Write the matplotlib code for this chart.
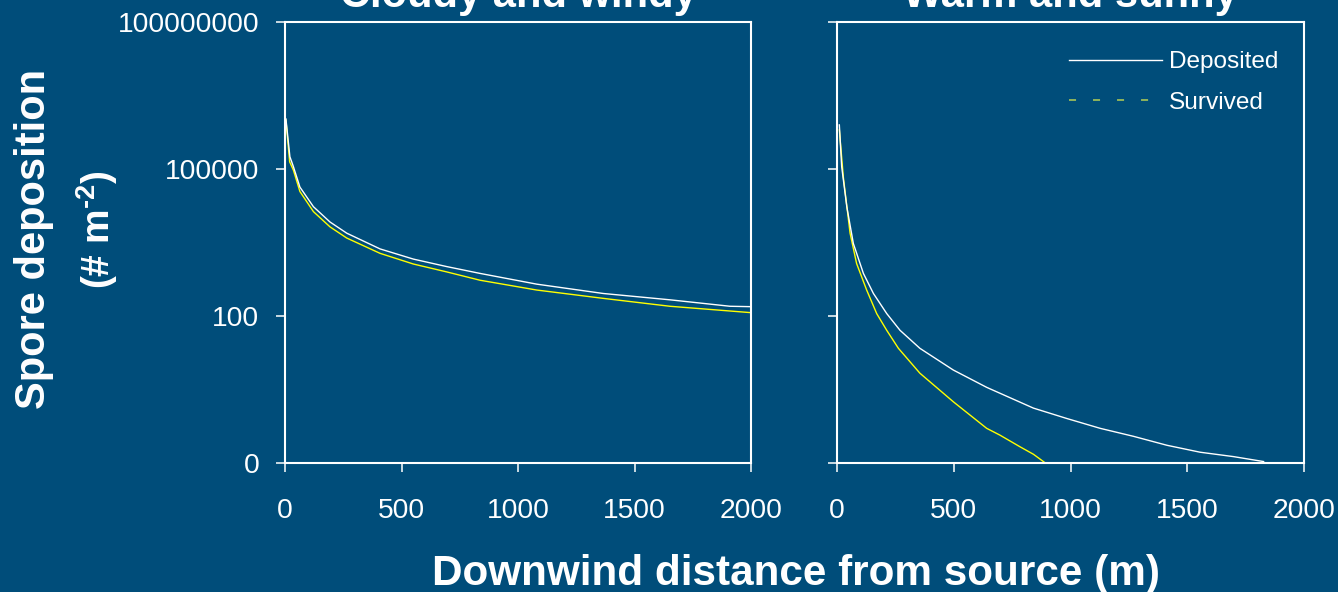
import matplotlib
matplotlib.use('Agg')
import matplotlib.pyplot as plt
from matplotlib.lines import Line2D
from matplotlib.ticker import FixedLocator, NullLocator, FixedFormatter

plt.rcParams['font.family'] = ['Liberation Sans', 'DejaVu Sans']
plt.rcParams['mathtext.fontset'] = 'custom'
plt.rcParams['mathtext.rm'] = 'Liberation Sans:bold'
plt.rcParams['mathtext.bf'] = 'Liberation Sans:bold'
plt.rcParams['mathtext.default'] = 'bf'

BG = '#004D7A'
WHITE = '#FFFFFF'
YELLOW = '#FFFF00'
LEGEND_GREEN = '#9BBB59'

# ---------------- data ----------------
panel_titles = ['Cloudy and windy', 'Warm and sunny']
series_labels = ['Deposited', 'Survived']
x_ticks = [0, 500, 1000, 1500, 2000]
y_ticks = [0.1, 100, 1e5, 1e8]
y_tick_labels = ['0', '100', '100000', '100000000']

# Cloudy and windy
cloudy_dep_x = [4, 21, 36, 64, 122, 193, 265, 408, 551, 694, 837, 1080, 1366, 1652, 1910, 2000]
cloudy_dep_y = [1.05e6, 178000, 112000, 42700, 17000, 8300, 4900, 2340, 1450, 1020,
                740, 447, 288, 214, 158, 155]
cloudy_surv_x = [4, 20, 36, 64, 122, 193, 265, 408, 551, 694, 837, 1080, 1366, 1652, 2000]
cloudy_surv_y = [1.0e6, 140000, 95000, 34700, 13500, 6600, 3900, 1900, 1150, 794,
                 537, 339, 229, 158, 117]

# Warm and sunny
warm_dep_x = [10, 20, 42, 70, 113, 156, 213, 270, 355, 498, 641, 841, 984, 1127,
              1270, 1413, 1555, 1698, 1827]
warm_dep_y = [794000, 112000, 17000, 3020, 741, 288, 112, 51, 21.9, 7.9, 3.5, 1.32,
              0.81, 0.51, 0.35, 0.23, 0.166, 0.135, 0.107]
warm_surv_x = [10, 27, 56, 84, 127, 170, 213, 263, 355, 498, 641, 698, 784, 841, 890]
warm_surv_y = [630000, 69000, 4900, 1175, 339, 112, 51, 21.9, 6.8, 1.78, 0.51, 0.37,
               0.214, 0.151, 0.102]

# ---------------- figure ----------------
W, H = 1338, 592
fig = plt.figure(figsize=(W / 100, H / 100), dpi=100, facecolor=BG)


def ax_rect(l, t, r, b):
    return [l / W, 1 - b / H, (r - l) / W, (b - t) / H]


ax1 = fig.add_axes(ax_rect(285, 22, 751, 463))
ax2 = fig.add_axes(ax_rect(837, 22, 1304, 463))

panels = [
    (ax1, cloudy_dep_x, cloudy_dep_y, cloudy_surv_x, cloudy_surv_y),
    (ax2, warm_dep_x, warm_dep_y, warm_surv_x, warm_surv_y),
]

for i, (ax, dx, dy, sx, sy) in enumerate(panels):
    ax.set_facecolor(BG)
    ax.plot(dx, dy, color=WHITE, lw=1.0, zorder=3)
    ax.plot(sx, sy, color=YELLOW, lw=1.0, zorder=2)
    ax.set_yscale('log')
    ax.set_ylim(0.1, 1e8)
    ax.set_xlim(0, 2000)
    ax.yaxis.set_major_locator(FixedLocator(y_ticks))
    ax.yaxis.set_minor_locator(NullLocator())
    ax.xaxis.set_major_locator(FixedLocator(x_ticks))
    ax.set_xticklabels([str(t) for t in x_ticks])
    if i == 0:
        ax.yaxis.set_major_formatter(FixedFormatter(y_tick_labels))
    else:
        ax.yaxis.set_major_formatter(FixedFormatter([''] * len(y_ticks)))
    for sp in ax.spines.values():
        sp.set_color(WHITE)
        sp.set_linewidth(1.5)
    ax.tick_params(axis='both', colors=WHITE, labelcolor=WHITE, length=6.5, width=1.1,
                   labelsize=20.3, direction='out')
    ax.tick_params(axis='y', pad=12)
    ax.tick_params(axis='x', pad=19)
    ax.tick_params(which='minor', left=False, bottom=False)

# panel titles (cut off at top of the image, as in the original)
fig.text(518 / W, 1 - 7 / H, panel_titles[0], ha='center', va='baseline',
         fontsize=30, fontweight='bold', color=WHITE)
fig.text(1070.5 / W, 1 - 7 / H, panel_titles[1], ha='center', va='baseline',
         fontsize=30, fontweight='bold', color=WHITE)

# axis labels
fig.text(796 / W, 1 - 585 / H, 'Downwind distance from source (m)', ha='center',
         va='baseline', fontsize=30.4, fontweight='bold', color=WHITE)
fig.text(34 / W, 1 - 239 / H, 'Spore deposition', ha='center', va='center',
         rotation=90, fontsize=30, fontweight='bold', color=WHITE)
fig.text(97 / W, 1 - 230 / H, r'(# m$^{\text{-}2}$)', ha='center', va='center',
         rotation=90, fontsize=28, fontweight='bold', color=WHITE)

# legend
handles = [Line2D([], [], color=WHITE, lw=1.0),
           Line2D([], [], color=LEGEND_GREEN, lw=1.3, dashes=(3.9, 9.4))]
ax2.legend(handles=handles, labels=series_labels, loc='upper left',
           bbox_to_anchor=(1069 / W, 1 - 51 / H), bbox_transform=fig.transFigure,
           frameon=False, fontsize=17.6, handlelength=3.8, handletextpad=0.3,
           labelspacing=0.75, borderpad=0, borderaxespad=0, labelcolor=WHITE)

fig.savefig('out.png', dpi=100, facecolor=BG)
